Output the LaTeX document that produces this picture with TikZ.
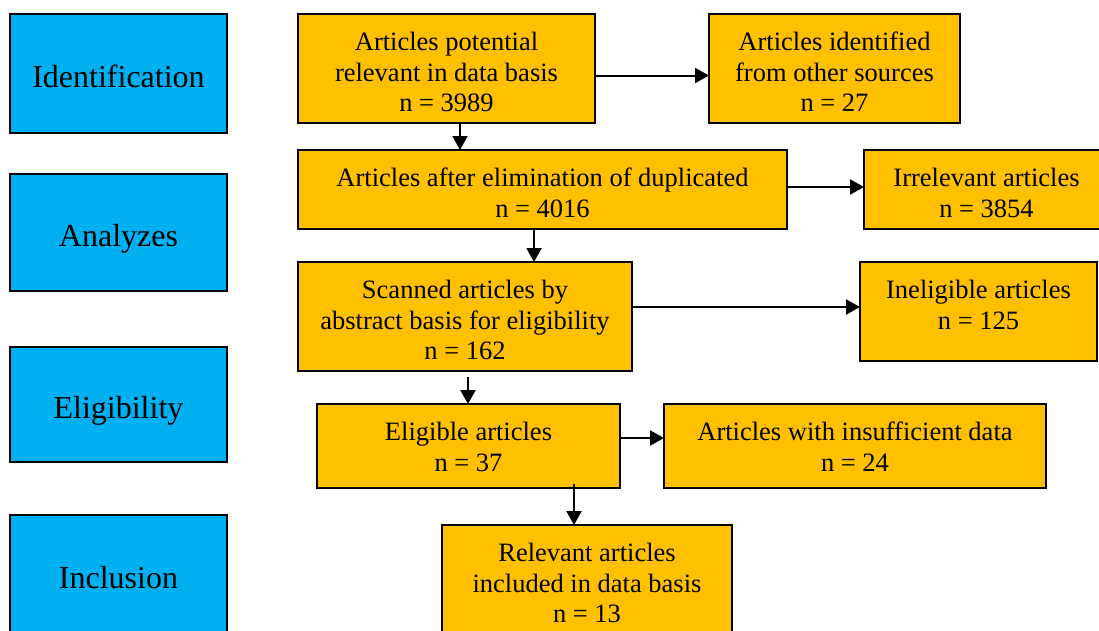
\documentclass[tikz,border=0pt]{standalone}
\usepackage{fontspec}
\setmainfont{Liberation Serif}
\usetikzlibrary{arrows.meta}
\definecolor{gold}{RGB}{255,192,0}
\definecolor{sky}{RGB}{0,176,240}
\begin{document}
\begin{tikzpicture}[x=1pt,y=-1pt,
 box/.style={draw=black,line width=2pt,fill=gold,inner sep=0pt,outer sep=0pt,anchor=north west},
 otext/.style={anchor=north,inner sep=0pt,align=center,font=\fontsize{26.5}{30.5}\selectfont},
 stage/.style={draw=black,line width=1.8pt,fill=sky,inner sep=0pt,outer sep=0pt,anchor=north west,minimum width=217pt,font=\fontsize{32}{36}\selectfont,text height=28pt,text depth=0pt},
 arr/.style={line width=2pt,-{Triangle[length=14pt,width=15pt]}}]
\path[use as bounding box,clip] (0,0) rectangle (1099,630);
% stage labels
\node[stage,minimum height=119pt] (s1) at (10,14) {Identification};
\node[stage,minimum height=117pt] (s2) at (10,174) {Analyzes};
\node[stage,minimum height=115pt] (s3) at (10,347) {Eligibility};
\node[stage,minimum height=118pt] (s4) at (10,515) {Inclusion};
% boxes
\node[box,minimum width=297pt,minimum height=109pt] (a1) at (298,14) {};
\node[box,minimum width=251pt,minimum height=109pt] (a2) at (709,14) {};
\node[box,minimum width=489pt,minimum height=79pt] (b1) at (298,150) {};
\node[box,minimum width=245pt,minimum height=79pt] (b2) at (864,150) {};
\node[box,minimum width=334pt,minimum height=109pt] (c1) at (298,262) {};
\node[box,minimum width=237pt,minimum height=99pt] (c2) at (860,262) {};
\node[box,minimum width=303pt,minimum height=84pt] (d1) at (317,404) {};
\node[box,minimum width=382pt,minimum height=84pt] (d2) at (664,404) {};
\node[box,minimum width=290pt,minimum height=115pt] (e) at (442,525) {};
% texts
\node[otext] (a1t) at ([yshift=-18pt]a1.north) {Articles potential\\relevant in data basis\\n = 3989};
\node[otext] (a2t) at ([yshift=-18pt]a2.north) {Articles identified\\from other sources\\n = 27};
\node[otext] (b1t) at ([yshift=-18pt]b1.north) {Articles after elimination of duplicated\\n = 4016};
\node[otext] (b2t) at ([yshift=-18pt]b2.north) {Irrelevant articles\\n = 3854};
\node[otext] (c1t) at ([yshift=-18pt]c1.north) {Scanned articles by\\abstract basis for eligibility\\n = 162};
\node[otext] (c2t) at ([yshift=-18pt]c2.north) {Ineligible articles\\n = 125};
\node[otext] (d1t) at ([yshift=-18pt]d1.north) {Eligible articles\\n = 37};
\node[otext] (d2t) at ([yshift=-18pt]d2.north) {Articles with insufficient data\\n = 24};
\node[otext] (et) at ([yshift=-18pt]e.north) {Relevant articles\\included in data basis\\n = 13};
% arrows
\draw[arr] ([yshift=-7pt]a1.east) -- ([yshift=-7pt]a1.east -| a2.west);
\draw[arr] ([xshift=13.5pt]a1.south) -- ([xshift=13.5pt]a1.south |- b1.north);
\draw[arr] ([yshift=2.5pt]b1.east) -- ([yshift=2.5pt]b1.east -| b2.west);
\draw[arr] ([xshift=-8.5pt]b1.south) -- ([xshift=-8.5pt]b1.south |- c1.north);
\draw[arr] ([yshift=9.5pt]c1.east) -- ([yshift=9.5pt]c1.east -| c2.west);
\draw[arr] ([xshift=3pt,yshift=-6pt]c1.south) -- ([xshift=3pt]c1.south |- d1.north);
\draw[arr] ([yshift=8pt]d1.east) -- ([yshift=8pt]d1.east -| d2.west);
\draw[arr] ([xshift=105.5pt,yshift=4pt]d1.south) -- ([xshift=105.5pt]d1.south |- e.north);
\end{tikzpicture}
\end{document}
